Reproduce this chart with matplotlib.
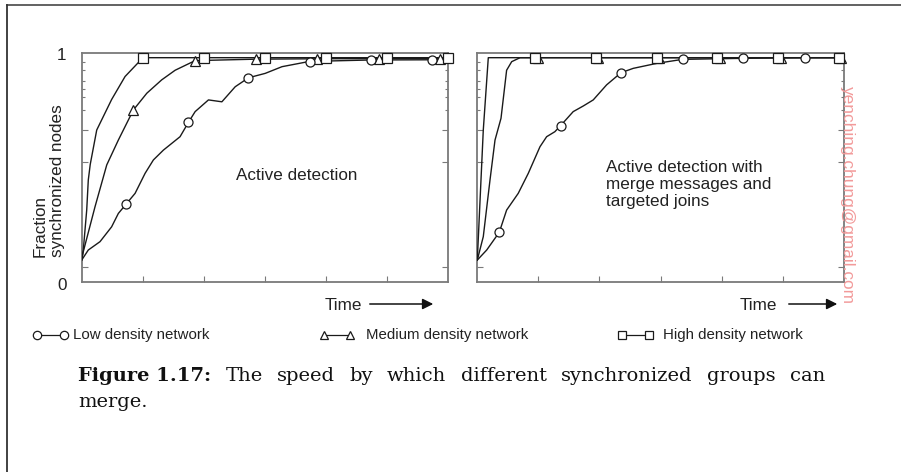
import numpy as np
import matplotlib.pyplot as plt
from matplotlib.lines import Line2D
from matplotlib.patches import FancyArrowPatch

W, H = 901, 472

# ---- data (x in time units 0..6, y as fraction) ----
# left panel: active detection
l_low_x = [0, 0.108, 0.30, 0.49, 0.60, 0.734, 0.874, 1.038, 1.174, 1.338, 1.61, 1.748,
           1.857, 2.075, 2.295, 2.513, 2.731, 3.005, 3.279, 3.726, 4.726, 5.74, 6.0]
l_low_y = [0.032, 0.080, 0.12, 0.191, 0.255, 0.302, 0.351, 0.447, 0.511, 0.558, 0.622, 0.691,
           0.742, 0.798, 0.789, 0.861, 0.904, 0.925, 0.957, 0.982, 0.989, 0.99, 0.99]
l_med_x = [0, 0.026, 0.218, 0.41, 0.60, 0.846, 1.066, 1.31, 1.53, 1.857, 2.86, 4.0, 6.0]
l_med_y = [0.032, 0.072, 0.287, 0.487, 0.606, 0.75, 0.83, 0.894, 0.94, 0.986, 0.993, 0.995, 0.996]
l_high_x = [0, 0.026, 0.082, 0.108, 0.14, 0.246, 0.49, 0.71, 0.99, 1.0, 6.0]
l_high_y = [0.032, 0.080, 0.271, 0.415, 0.49, 0.654, 0.80, 0.91, 0.996, 1.0, 1.0]

l_low_mx = [0.73, 1.74, 2.73, 3.73, 4.73, 5.74]
l_low_my = [0.30, 0.69, 0.904, 0.98, 0.99, 0.99]
l_med_mx = [0.84, 1.86, 2.86, 3.86, 4.86, 5.86]
l_med_my = [0.75, 0.986, 0.995, 0.995, 0.995, 0.996]
l_high_mx = [1, 2, 3, 4, 5, 6]
l_high_my = [1.0, 1.0, 1.0, 1.0, 1.0, 1.0]

# right panel: with merge messages and targeted joins
r_low_x = [0, 0.154, 0.36, 0.48, 0.67, 0.835, 1.026, 1.135, 1.27, 1.364, 1.57, 1.735,
           1.898, 2.117, 2.352, 2.553, 2.94, 3.36, 4.35, 5.36, 6.0]
r_low_y = [0.032, 0.080, 0.165, 0.271, 0.351, 0.447, 0.574, 0.622, 0.646, 0.675, 0.742, 0.769,
           0.798, 0.870, 0.928, 0.949, 0.973, 0.992, 0.997, 1.0, 1.0]
r_med_x = [0, 0.098, 0.208, 0.29, 0.388, 0.48, 0.563, 0.70, 6.0]
r_med_y = [0.032, 0.144, 0.415, 0.606, 0.71, 0.94, 0.981, 1.0, 1.0]
r_high_x = [0, 0.098, 0.18, 6.0]
r_high_y = [0.032, 0.654, 1.0, 1.0]

r_low_mx = [0.36, 1.364, 2.352, 3.36, 4.35, 5.36]
r_low_my = [0.165, 0.675, 0.928, 0.992, 0.997, 1.0]
r_med_mx = [0.99, 1.98, 2.98, 3.97, 4.97, 5.96]
r_med_my = [1.0, 1.0, 1.0, 1.0, 1.0, 1.0]
r_high_mx = [0.944, 1.94, 2.94, 3.93, 4.93, 5.92]
r_high_my = [1.0, 1.0, 1.0, 1.0, 1.0, 1.0]

panel_text = ["Active detection",
              "Active detection with\nmerge messages and\ntargeted joins"]
legend_labels = ["Low density network", "Medium density network", "High density network"]
caption_bold = "Figure 1.17:"
caption_line1 = "The speed by which different synchronized groups can"
caption_line2 = "merge."

plt.rcParams['font.family'] = ['Liberation Sans', 'DejaVu Sans']

LINE = '#1a1a1a'
SPINE = '#7a7a7a'
TXT = '#222222'


def fx(px):
    return px / W


def fy(py):
    return 1 - py / H


fig = plt.figure(figsize=(W / 100, H / 100), dpi=100)


def make_axes(x0px):
    ax = fig.add_axes([fx(x0px), fy(282), 366.5 / W, (282 - 53.3) / H])
    ax.set_xlim(0, 6)
    ax.set_ylim(-0.073, 1.021)
    ax.set_xticks([1, 2, 3, 4, 5])
    ax.set_yticks([0, 0.5, 0.654])
    ax.set_yticks([0.75, 0.81, 0.85, 0.89, 0.94, 0.98], minor=True)
    ax.tick_params(which='both', direction='in', left=True, right=True, top=False,
                   bottom=True, labelleft=False, labelbottom=False, color=SPINE, width=0.8)
    ax.tick_params(which='major', length=4)
    ax.tick_params(which='minor', length=2)
    for s in ax.spines.values():
        s.set_color(SPINE)
        s.set_linewidth(1.3)
    return ax


def curves(ax, low, lowm, med, medm, high, highm):
    kw = dict(color=LINE, lw=1.0, zorder=3)
    mk = dict(ls='none', mfc='white', mec=LINE, mew=0.9, ms=6.5, clip_on=False)
    ax.plot(high[0], high[1], **kw)
    ax.plot(med[0], med[1], **kw)
    ax.plot(low[0], low[1], **kw)
    ax.plot(medm[0], medm[1], marker='^', **mk, zorder=4)
    ax.plot(highm[0], highm[1], marker='s', **mk, zorder=5)
    ax.plot(lowm[0], lowm[1], marker='o', **mk, zorder=6)


axL = make_axes(81.7)
curves(axL, (l_low_x, l_low_y), (l_low_mx, l_low_my), (l_med_x, l_med_y),
       (l_med_mx, l_med_my), (l_high_x, l_high_y), (l_high_mx, l_high_my))
fig.text(fx(297), fy(175), panel_text[0], ha='center', va='center', fontsize=12.3, color=TXT)

axR = make_axes(477.3)
curves(axR, (r_low_x, r_low_y), (r_low_mx, r_low_my), (r_med_x, r_med_y),
       (r_med_mx, r_med_my), (r_high_x, r_high_y), (r_high_mx, r_high_my))
fig.text(fx(606), fy(160), panel_text[1], ha='left', va='top', fontsize=12.3, color=TXT,
         linespacing=1.15)

# y-axis labels
fig.text(fx(61.7), fy(56), "1", ha='center', va='center', fontsize=12.3, color=TXT)
fig.text(fx(61.7), fy(285), "0", ha='center', va='center', fontsize=12.3, color=TXT)
fig.text(fx(40), fy(257), "Fraction", rotation=90, ha='center', va='bottom',
         fontsize=12.3, color=TXT)
fig.text(fx(58), fy(257), "synchronized nodes", rotation=90, ha='center', va='bottom',
         fontsize=12.3, color=TXT)

# "Time ->" labels
for tx, a0, a1 in [(325, 367, 436), (740, 786, 840)]:
    fig.text(fx(tx), fy(305), "Time", ha='left', va='center', fontsize=12.3, color=TXT)
    fig.add_artist(FancyArrowPatch((fx(a0), fy(304)), (fx(a1), fy(304)),
                                   transform=fig.transFigure, arrowstyle='-|>',
                                   mutation_scale=16, color='#111111', lw=1.1))

# legend row
for (s0, s1, t0), m, lab in zip([(37, 64, 73), (324, 350, 366), (622, 649, 663)],
                                ['o', '^', 's'], legend_labels):
    fig.add_artist(Line2D([fx(s0), fx(s1)], [fy(335), fy(335)], transform=fig.transFigure,
                          color=LINE, lw=0.9, marker=m, ms=6, mfc='white', mec=LINE, mew=0.9))
    fig.text(fx(t0), fy(335), lab, ha='left', va='center', fontsize=10.8, color=TXT)

# watermark
fig.text(fx(847), fy(195), "yenching.chung@gmail.com", rotation=-90, ha='center',
         va='center', fontsize=12.4, color='#f29a9a')

# frame
fig.add_artist(Line2D([fx(7), fx(901)], [fy(5), fy(5)], transform=fig.transFigure,
                      color='#555555', lw=1.3))
fig.add_artist(Line2D([fx(7), fx(7)], [fy(5), fy(472)], transform=fig.transFigure,
                      color='#333333', lw=1.3))

# caption, first line justified between x=78 and x=825
serif = ['DejaVu Serif']
cfs = 14
words = [(caption_bold, 'bold')] + [(w, 'normal') for w in caption_line1.split()]
renderer = fig.canvas.get_renderer()
arts = []
for w, wt in words:
    t = fig.text(0, fy(376), w, ha='left', va='center', fontsize=cfs, family=serif,
                 weight=wt, color='#111111')
    arts.append(t)
widths = [a.get_window_extent(renderer).width for a in arts]
gap = (825 - 78 - sum(widths)) / (len(arts) - 1)
x = 78.0
for a, wd in zip(arts, widths):
    a.set_x(fx(x))
    x += wd + gap
fig.text(fx(78), fy(402), caption_line2, ha='left', va='center', fontsize=cfs,
         family=serif, color='#111111')

fig.savefig("out.png", dpi=100, facecolor='white')
